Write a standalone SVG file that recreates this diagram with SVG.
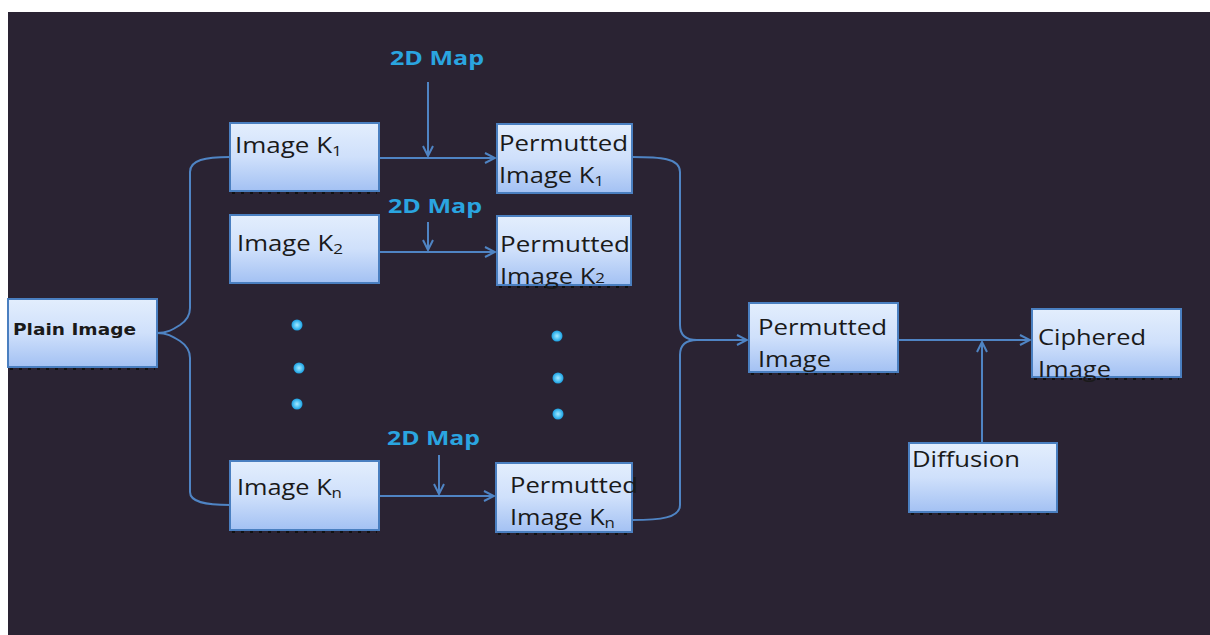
<svg xmlns="http://www.w3.org/2000/svg" width="1210" height="635" viewBox="0 0 1210 635">
<defs>
<linearGradient id="g" x1="0" y1="0" x2="0" y2="1">
<stop offset="0" stop-color="#e3eefd"/>
<stop offset="0.5" stop-color="#cfe0fb"/>
<stop offset="1" stop-color="#a3c1f3"/>
</linearGradient>
<marker id="ah" viewBox="0 0 12 12" refX="11" refY="6" markerWidth="12" markerHeight="12" markerUnits="userSpaceOnUse" orient="auto">
<path d="M1,1 L11,6 L1,11" fill="none" stroke="#4f84c4" stroke-width="2"/>
</marker>
<radialGradient id="dot">
<stop offset="0" stop-color="#a8e8ff"/>
<stop offset="0.5" stop-color="#5cc8f5"/>
<stop offset="1" stop-color="#1a9ee0"/>
</radialGradient>
</defs>
<style>
.box{fill:url(#g);stroke:#4a7fc0;stroke-width:2}
.sh{fill:none;stroke:#111;stroke-width:2;stroke-dasharray:3 6}
.t{font-family:"Open Sans","Noto Sans",sans-serif;font-size:21px;fill:#1a1a1a}
.s{font-size:14px}
.map{font-family:"Open Sans","DejaVu Sans",sans-serif;font-weight:bold;font-size:20px;fill:#2aa5e0}
.c{fill:none;stroke:#4f84c4;stroke-width:2}
.d{fill:url(#dot)}
</style>
<rect x="0" y="0" width="1210" height="635" fill="#ffffff"/>
<rect x="8" y="12" width="1202" height="623" fill="#2a2333"/>

<g id="connectors">
<path class="c" d="M157,333 C167,333 172,330 180,325 C186,321 190,316 190,308 L190,172 C190,160 205,157 230,157"/>
<path class="c" d="M157,333 C167,333 172,336 180,341 C186,345 190,350 190,358 L190,492 C190,502 205,505 230,505"/>
<path class="c" d="M632,157 C660,157 680,158 680,172 L680,325 C680,333 684,340 697,340"/>
<path class="c" d="M632,520 C660,520 680,518 680,505 L680,355 C680,347 684,340 697,340"/>
<path class="c" d="M697,340 L747,340" marker-end="url(#ah)"/>
<path class="c" d="M379,158 L495,158" marker-end="url(#ah)"/>
<path class="c" d="M428,82 L428,156" marker-end="url(#ah)"/>
<path class="c" d="M379,252 L495,252" marker-end="url(#ah)"/>
<path class="c" d="M428,222 L428,250" marker-end="url(#ah)"/>
<path class="c" d="M379,496 L494,496" marker-end="url(#ah)"/>
<path class="c" d="M439,455 L439,494" marker-end="url(#ah)"/>
<path class="c" d="M898,340 L1030,340" marker-end="url(#ah)"/>
<path class="c" d="M982,443 L982,342" marker-end="url(#ah)"/>
</g>

<g id="labels">
<text class="map" x="390" y="65" textLength="94" lengthAdjust="spacingAndGlyphs">2D Map</text>
<text class="map" x="388" y="213" textLength="94" lengthAdjust="spacingAndGlyphs">2D Map</text>
<text class="map" x="387" y="445" textLength="93" lengthAdjust="spacingAndGlyphs">2D Map</text>
</g>

<g id="dots">
<circle class="d" cx="297" cy="325" r="5.5"/>
<circle class="d" cx="299" cy="368" r="5.5"/>
<circle class="d" cx="297" cy="404" r="5.5"/>
<circle class="d" cx="557" cy="336" r="5.5"/>
<circle class="d" cx="558" cy="378" r="5.5"/>
<circle class="d" cx="558" cy="414" r="5.5"/>
</g>

<g id="plain">
<rect class="box" x="8" y="299" width="149" height="68"/>
<path class="sh" d="M10,369 L155,369"/>
<text x="13" y="335" font-family="'DejaVu Sans',sans-serif" font-weight="bold" font-size="16" fill="#1a1a1a" textLength="123" lengthAdjust="spacingAndGlyphs">Plain Image</text>
</g>
<g id="imgk1">
<rect class="box" x="230" y="123" width="149" height="68"/>
<path class="sh" d="M232,193 L377,193"/>
<text class="t" x="235" y="153" textLength="107" lengthAdjust="spacingAndGlyphs">Image K<tspan class="s" dy="3">1</tspan></text>
</g>
<g id="imgk2">
<rect class="box" x="230" y="215" width="149" height="68"/>
<text class="t" x="237" y="251" textLength="106" lengthAdjust="spacingAndGlyphs">Image K<tspan class="s" dy="3">2</tspan></text>
</g>
<g id="imgkn">
<rect class="box" x="230" y="461" width="149" height="69"/>
<path class="sh" d="M232,532 L377,532"/>
<text class="t" x="237" y="495" textLength="105" lengthAdjust="spacingAndGlyphs">Image K<tspan class="s" dy="3">n</tspan></text>
</g>
<g id="permk1">
<rect class="box" x="497" y="124" width="135" height="69"/>
<text class="t" x="499" y="151" textLength="129" lengthAdjust="spacingAndGlyphs">Permutted</text>
<text class="t" x="499" y="183" textLength="105" lengthAdjust="spacingAndGlyphs">Image K<tspan class="s" dy="3">1</tspan></text>
</g>
<g id="permk2">
<rect class="box" x="497" y="216" width="134" height="69"/>
<path class="sh" d="M499,287 L629,287"/>
<text class="t" x="500" y="252" textLength="130" lengthAdjust="spacingAndGlyphs">Permutted</text>
<text class="t" x="500" y="284" textLength="105" lengthAdjust="spacingAndGlyphs">Image K<tspan class="s" dy="-1">2</tspan></text>
</g>
<g id="permkn">
<rect class="box" x="496" y="463" width="136" height="69"/>
<path class="sh" d="M498,534 L630,534"/>
<text class="t" x="510" y="493" textLength="128" lengthAdjust="spacingAndGlyphs">Permutted</text>
<text class="t" x="510" y="525" textLength="105" lengthAdjust="spacingAndGlyphs">Image K<tspan class="s" dy="3">n</tspan></text>
</g>
<g id="perm">
<rect class="box" x="749" y="303" width="149" height="69"/>
<path class="sh" d="M751,374 L896,374"/>
<text class="t" x="758" y="335" textLength="129" lengthAdjust="spacingAndGlyphs">Permutted</text>
<text class="t" x="758" y="367" textLength="73" lengthAdjust="spacingAndGlyphs">Image</text>
</g>
<g id="ciphered">
<rect class="box" x="1032" y="309" width="149" height="68"/>
<path class="sh" d="M1034,379 L1179,379"/>
<text class="t" x="1038" y="345" textLength="108" lengthAdjust="spacingAndGlyphs">Ciphered</text>
<text class="t" x="1038" y="377" textLength="73" lengthAdjust="spacingAndGlyphs">Image</text>
</g>
<g id="diffusion">
<rect class="box" x="909" y="443" width="148" height="69"/>
<path class="sh" d="M911,514 L1055,514"/>
<text class="t" x="912" y="467" textLength="108" lengthAdjust="spacingAndGlyphs">Diffusion</text>
</g>
</svg>
